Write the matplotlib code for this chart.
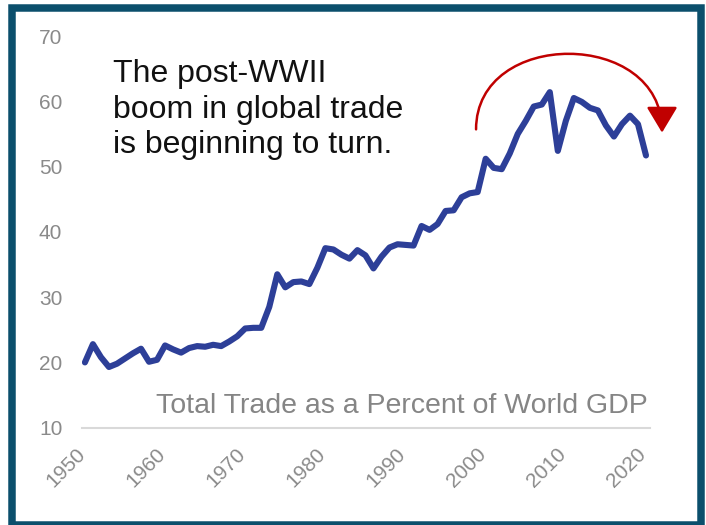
import numpy as np
import matplotlib
matplotlib.use("Agg")
import matplotlib.pyplot as plt
import matplotlib.transforms as mtransforms
from matplotlib.patches import Rectangle, FancyArrowPatch, ArrowStyle
from matplotlib.path import Path

plt.rcParams["font.family"] = ["Liberation Sans", "DejaVu Sans"]

# Total trade as a percent of world GDP, annual
years = list(range(1950, 2021))
trade_pct = [
    20.0, 22.8, 20.8, 19.3, 19.8, 20.6, 21.4, 22.1, 20.1, 20.4,   # 1950s
    22.6, 22.0, 21.5, 22.2, 22.5, 22.4, 22.7, 22.5, 23.2, 24.0,   # 1960s
    25.2, 25.3, 25.3, 28.5, 33.5, 31.5, 32.3, 32.4, 32.0, 34.5,   # 1970s
    37.5, 37.3, 36.5, 35.9, 37.2, 36.4, 34.4, 36.2, 37.6, 38.1,   # 1980s
    38.0, 37.9, 40.9, 40.3, 41.2, 43.2, 43.3, 45.3, 45.9, 46.1,   # 1990s
    51.2, 49.8, 49.6, 52.0, 55.0, 57.0, 59.2, 59.5, 61.4, 52.4,   # 2000s
    57.0, 60.5, 59.9, 59.0, 58.6, 56.3, 54.6, 56.5, 57.8, 56.5,   # 2010s
    51.7,                                                         # 2020
]
x_ticks = [1950, 1960, 1970, 1980, 1990, 2000, 2010, 2020]
y_ticks = [10, 20, 30, 40, 50, 60, 70]
headline = ["The post-WWII", "boom in global trade", "is beginning to turn."]
subtitle = "Total Trade as a Percent of World GDP"

W, H = 706, 525
fig = plt.figure(figsize=(W / 100, H / 100), dpi=100)
ax = fig.add_axes([81.7 / W, 1 - 427.7 / H, (650 - 81.7) / W, (427.7 - 36) / H])

ax.plot(years, trade_pct, color="#2d3f98", lw=4.4,
        solid_joinstyle="round", solid_capstyle="round", zorder=3)

ax.set_xlim(1949.6, 2020.5)
ax.set_ylim(10, 70)
ax.set_xticks(x_ticks)
ax.set_yticks(y_ticks)
ax.set_xticklabels([str(t) for t in x_ticks], rotation=45, ha="right",
                   rotation_mode="default")
for side in ("top", "right", "left"):
    ax.spines[side].set_visible(False)
ax.spines["bottom"].set_color("#d9d9d9")
ax.spines["bottom"].set_linewidth(1.5)
ax.tick_params(axis="y", length=0, pad=14, labelsize=15, labelcolor="#8a8a8a")
ax.tick_params(axis="x", length=0, pad=12, labelsize=15, labelcolor="#8a8a8a")

# nudge the slanted year labels slightly to the right
shift = mtransforms.ScaledTranslation(4 / 100, 0, fig.dpi_scale_trans)
for lbl in ax.get_xticklabels():
    lbl.set_transform(lbl.get_transform() + shift)

# headline, one line per text object
for txt, yb in zip(headline, [0.8833, 0.790, 0.7005]):
    ax.text(0.0556, yb, txt, transform=ax.transAxes, ha="left", va="baseline",
            fontsize=23, color="#111111")

ax.text(0.9965, 0.0375, subtitle, transform=ax.transAxes, ha="right",
        va="baseline", fontsize=20.5, color="#858585")

# curved red arrow over the peak
k = 15.5
arc = Path([(1998.8, 55.7), (1998.8, 55.7 + k), (2022.0, 55.6 + k), (2022.0, 55.2)],
           [Path.MOVETO, Path.CURVE4, Path.CURVE4, Path.CURVE4])
arrow = FancyArrowPatch(path=arc,
                        arrowstyle=ArrowStyle("-|>", head_length=1.0, head_width=0.6),
                        mutation_scale=16, color="#c00000", lw=1.8, zorder=4)
arrow.set_clip_on(False)
ax.add_patch(arrow)

# dark frame around the figure
fig.patches.append(Rectangle((11.75 / W, 0), (700.5 - 11.75) / W, 517 / H,
                             transform=fig.transFigure, fill=False,
                             edgecolor="#0b4f6c", lw=5.4))

fig.savefig("out.png", dpi=100)
